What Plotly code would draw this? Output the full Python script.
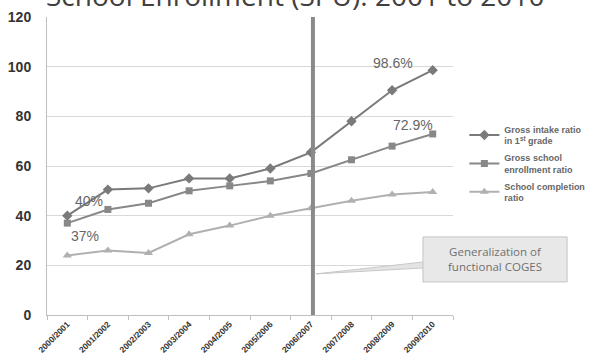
import plotly.graph_objects as go

categories = ["2000/2001", "2001/2002", "2002/2003", "2003/2004", "2004/2005",
              "2005/2006", "2006/2007", "2007/2008", "2008/2009", "2009/2010"]
intake = [40, 50.5, 51, 55, 55, 59, 65.5, 78, 90.5, 98.6]
enrollment = [37, 42.5, 45, 50, 52, 54, 57, 62.5, 68, 72.9]
completion = [24, 26, 25, 32.5, 36, 40, 43, 46, 48.5, 49.5]
y_ticks = [0, 20, 40, 60, 80, 100, 120]

names = ["Gross intake ratio<br>in 1<sup>st</sup> grade",
         "Gross school<br>enrollment ratio",
         "School completion<br>ratio"]

fig = go.Figure()
series = [
    (intake, names[0], "#7a7a7a", "diamond", 8),
    (enrollment, names[1], "#888888", "square", 7),
    (completion, names[2], "#b0b0b0", "triangle-up", 8),
]
for i, (vals, nm, col, sym, sz) in enumerate(series):
    fig.add_trace(go.Scatter(
        x=categories, y=vals, name=nm, mode="lines+markers",
        line=dict(color=col, width=2),
        marker=dict(symbol=sym, size=sz, color=col),
        legendgroup=f"g{i}",
    ))

FONT = "Liberation Sans, Arial, sans-serif"

fig.update_layout(
    width=593, height=360,
    margin=dict(l=47, r=140, t=17, b=45, autoexpand=False),
    plot_bgcolor="white", paper_bgcolor="white",
    showlegend=True,
    legend=dict(x=1.028, y=0.665, xanchor="left", yanchor="top",
                font=dict(family=FONT, size=9, color="#666666", weight="bold"),
                tracegroupgap=2, itemwidth=30, bgcolor="rgba(0,0,0,0)"),
    xaxis=dict(
        type="category", tickangle=-45, tickson="boundaries",
        ticks="outside", ticklen=4, tickcolor="#bfbfbf",
        showline=True, linecolor="#bfbfbf", linewidth=1,
        showgrid=False, range=[-0.5, 9.5],
        tickfont=dict(family=FONT, size=8.5, color="#333333", weight="bold"),
    ),
    yaxis=dict(
        range=[0, 120], tickvals=y_ticks, showgrid=True, gridcolor="#d9d9d9",
        gridwidth=1, showline=True, linecolor="#bfbfbf", zeroline=False,
        ticks="", ticklabelstandoff=12,
        tickfont=dict(family=FONT, size=14, color="#333333", weight="bold"),
    ),
)

# vertical marker line
fig.add_shape(type="line", xref="x", yref="y", x0=6.05, x1=6.05, y0=-1, y1=120,
              line=dict(color="#8a8a8a", width=4))

# callout pointer and box
fig.add_shape(type="path", xref="paper", yref="paper",
              path="M 0.928 0.178 L 0.6626 0.138 L 0.928 0.158 Z",
              fillcolor="#e4e4e4", line=dict(color="#c8c8c8", width=1))
fig.add_shape(type="rect", xref="paper", yref="paper",
              x0=0.926, x1=1.281, y0=0.111, y1=0.262,
              fillcolor="#e8e8e8", line=dict(color="#c4c4c4", width=1))
fig.add_annotation(xref="paper", yref="paper", x=1.1035, y=0.1865,
                   xanchor="center", yanchor="middle",
                   text="Generalization of<br>functional COGES", showarrow=False,
                   font=dict(family="Open Sans, sans-serif", size=11.5, color="#707070"))

# title
fig.add_annotation(xref="paper", yref="paper", x=0.611, y=1.075,
                   xanchor="center", yanchor="middle",
                   text="School Enrollment (SPU): 2001 to 2010", showarrow=False,
                   font=dict(family="Open Sans, sans-serif", size=28, color="#404040"))

# data labels
labels = [("40%", 0.534, 45.9), ("37%", 0.436, 31.8), ("98.6%", 8.02, 101.5), ("72.9%", 8.51, 76.5)]
for t, xx, yy in labels:
    fig.add_annotation(xref="x", yref="y", x=xx, y=yy, text=t, showarrow=False,
                       xanchor="center", yanchor="middle",
                       font=dict(family=FONT, size=14, color="#666666"))

fig.write_html("out.html")
